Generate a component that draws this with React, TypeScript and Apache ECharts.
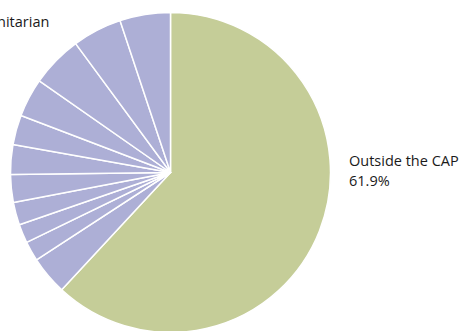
import React, { useEffect, useRef } from "react";
import * as echarts from "echarts";

const names = [
  "Outside the CAP",
  "Slice 2",
  "Slice 3",
  "Slice 4",
  "Slice 5",
  "Slice 6",
  "Slice 7",
  "Slice 8",
  "Slice 9",
  "Slice 10",
  "Slice 11",
  "Humanitarian",
];
const values = [61.9, 3.9, 2.0, 1.9, 2.3, 2.8, 3.0, 3.0, 3.9, 5.2, 5.0, 5.1];
const labelled = ["Outside the CAP", "Humanitarian"];

const GREEN = "#c5cd98";
const LAVENDER = "#adafd6";

export default function App() {
  const ref = useRef<HTMLDivElement>(null);
  useEffect(() => {
    if (!ref.current) return;
    const chart = echarts.init(ref.current, null, { renderer: "svg" });
    const data = names.map((n, i) => ({
      name: n,
      value: values[i],
      itemStyle: { color: i === 0 ? GREEN : LAVENDER },
      label: { show: labelled.includes(n) },
      labelLine: { show: false },
    }));
    chart.setOption({
      animation: false,
      backgroundColor: "#ffffff",
      series: [
        {
          type: "pie",
          center: [170.5, 172.5],
          radius: [0, 160],
          startAngle: 90,
          clockwise: true,
          percentPrecision: 1,
          avoidLabelOverlap: false,
          itemStyle: { borderColor: "#ffffff", borderWidth: 1.5 },
          emphasis: { disabled: true },
          label: {
            show: true,
            position: "outside",
            formatter: "{b}\n{d}%",
            fontFamily: "Open Sans",
            fontSize: 14.5,
            lineHeight: 20,
            color: "#1a1a1a",
          },
          labelLine: { show: false },
          labelLayout: (p: any) => {
            if (p.dataIndex === 0) {
              return { x: 349, y: 170, align: "left", verticalAlign: "middle" };
            }
            return { x: -44, y: 31, align: "left", verticalAlign: "middle" };
          },
          data,
        },
      ],
    });
    return () => chart.dispose();
  }, []);
  return (
    <div
      ref={ref}
      style={{ position: "fixed", left: 0, top: 0, width: 459, height: 331 }}
    />
  );
}
